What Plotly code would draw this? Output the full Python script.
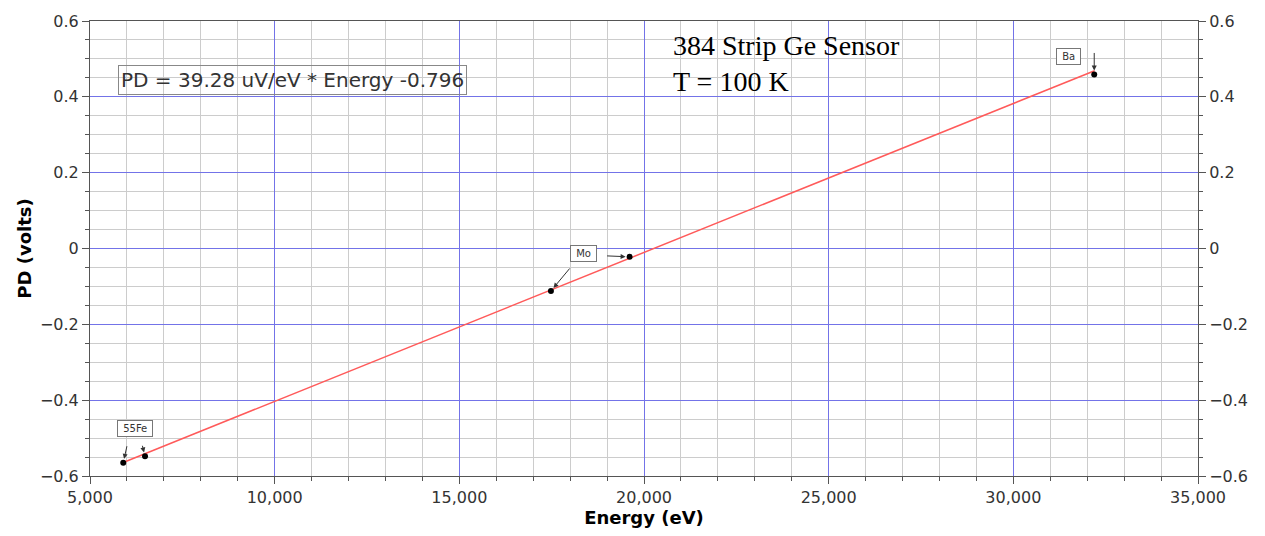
import plotly.graph_objects as go

# Data
energy_ev = [5900, 6490, 17480, 19610, 32190]
pd_volts = [-0.565, -0.548, -0.112, -0.022, 0.459]
slope_uv_per_ev = 39.28
intercept_v = -0.796
fit_x = [5900, 32200]
fit_y = [slope_uv_per_ev * 1e-6 * e + intercept_v for e in fit_x]

labels = ["55Fe", "Mo", "Ba"]
label_x = [6218, 18373, 31502]
label_y = [-0.475, -0.012, 0.506]
# which point each arrow belongs to, with tail offsets (px)
arrow_pt = [0, 1, 2, 3, 4]
arrow_ax = [4, -3, 20, -24, 0]
arrow_ay = [-18, -12, -24, -1, -23]

MAJOR = "#7373e8"
MINOR = "#cccccc"
AXC = "#555555"
TICKF = dict(family="DejaVu Sans", size=16, color="#333333")

PLOT_L, PLOT_R, PLOT_T, PLOT_B = 90, 1198, 16, 477


def px2paper(px, py):
    return (px - PLOT_L) / (PLOT_R - PLOT_L), 1 - (py - PLOT_T) / (PLOT_B - PLOT_T)


fig = go.Figure()
fig.add_trace(go.Scatter(x=fit_x, y=fit_y, mode="lines",
                         line=dict(color="#ff5a5a", width=1.5), showlegend=False))
fig.add_trace(go.Scatter(x=energy_ev, y=pd_volts, mode="markers",
                         marker=dict(color="black", size=6), showlegend=False))
fig.add_trace(go.Scatter(x=energy_ev, y=pd_volts, mode="markers", yaxis="y2",
                         marker=dict(opacity=0), hoverinfo="skip", showlegend=False))

annotations = []
for t, lx, ly in zip(labels, label_x, label_y):
    annotations.append(dict(x=lx, y=ly, text="&nbsp;" + t + "&nbsp;", showarrow=False,
                            xanchor="center", yanchor="middle",
                            font=dict(family="DejaVu Sans", size=10, color="#333"),
                            bordercolor="#777", borderwidth=1, borderpad=2,
                            bgcolor="white"))
for i, ax, ay in zip(arrow_pt, arrow_ax, arrow_ay):
    annotations.append(dict(x=energy_ev[i], y=pd_volts[i], text="", showarrow=True,
                            ax=ax, ay=ay, arrowhead=2, arrowsize=1, arrowwidth=1,
                            arrowcolor="#333", standoff=4))
ex, ey = px2paper(292, 75.5)
annotations.append(dict(xref="paper", yref="paper", x=ex, y=ey,
                        xanchor="center", yanchor="middle",
                        text="PD = 39.28 uV/eV * Energy -0.796", showarrow=False,
                        font=dict(family="DejaVu Sans", size=20, color="#333"),
                        bordercolor="#888", borderwidth=1, borderpad=2,
                        bgcolor="rgba(0,0,0,0)"))
sx, sy = px2paper(671, 23)
annotations.append(dict(xref="paper", yref="paper", x=sx, y=sy,
                        xanchor="left", yanchor="top", align="left",
                        text="384 Strip Ge Sensor<br>T = 100 K", showarrow=False,
                        font=dict(family="Liberation Serif", size=28, color="black")))

yaxis_common = dict(range=[-0.6, 0.6], dtick=0.2, tick0=0, showgrid=True,
                    gridcolor=MAJOR, gridwidth=1, zeroline=False,
                    ticks="outside", ticklen=7, tickcolor=AXC,
                    showline=True, linecolor=AXC, linewidth=1,
                    tickfont=TICKF,
                    minor=dict(dtick=0.05, tick0=0, showgrid=True, gridcolor=MINOR,
                               ticks="outside", ticklen=4, tickcolor=AXC))

fig.update_layout(
    width=1265, height=536,
    margin=dict(l=PLOT_L, r=1265 - PLOT_R, t=PLOT_T, b=536 - PLOT_B),
    plot_bgcolor="white", paper_bgcolor="white",
    xaxis=dict(range=[5000, 35000], dtick=5000, tick0=0, tickformat=",d",
               showgrid=True, gridcolor=MAJOR, gridwidth=1, zeroline=False,
               ticks="outside", ticklen=7, tickcolor=AXC,
               showline=True, linecolor=AXC, linewidth=1, mirror=True,
               tickfont=TICKF,
               title=dict(text="<b>Energy (eV)</b>", standoff=4,
                          font=dict(family="DejaVu Sans", size=18, color="black")),
               minor=dict(dtick=1000, tick0=0, showgrid=True, gridcolor=MINOR,
                          ticks="outside", ticklen=4, tickcolor=AXC)),
    yaxis=dict(**yaxis_common,
               title=dict(text="<b>PD (volts)</b>", standoff=3,
                          font=dict(family="DejaVu Sans", size=18, color="black"))),
    yaxis2=dict(**yaxis_common, overlaying="y", side="right"),
    annotations=annotations,
)
fig.update_layout(yaxis2=dict(showgrid=False, minor=dict(showgrid=False)))

fig.write_html("out.html")
